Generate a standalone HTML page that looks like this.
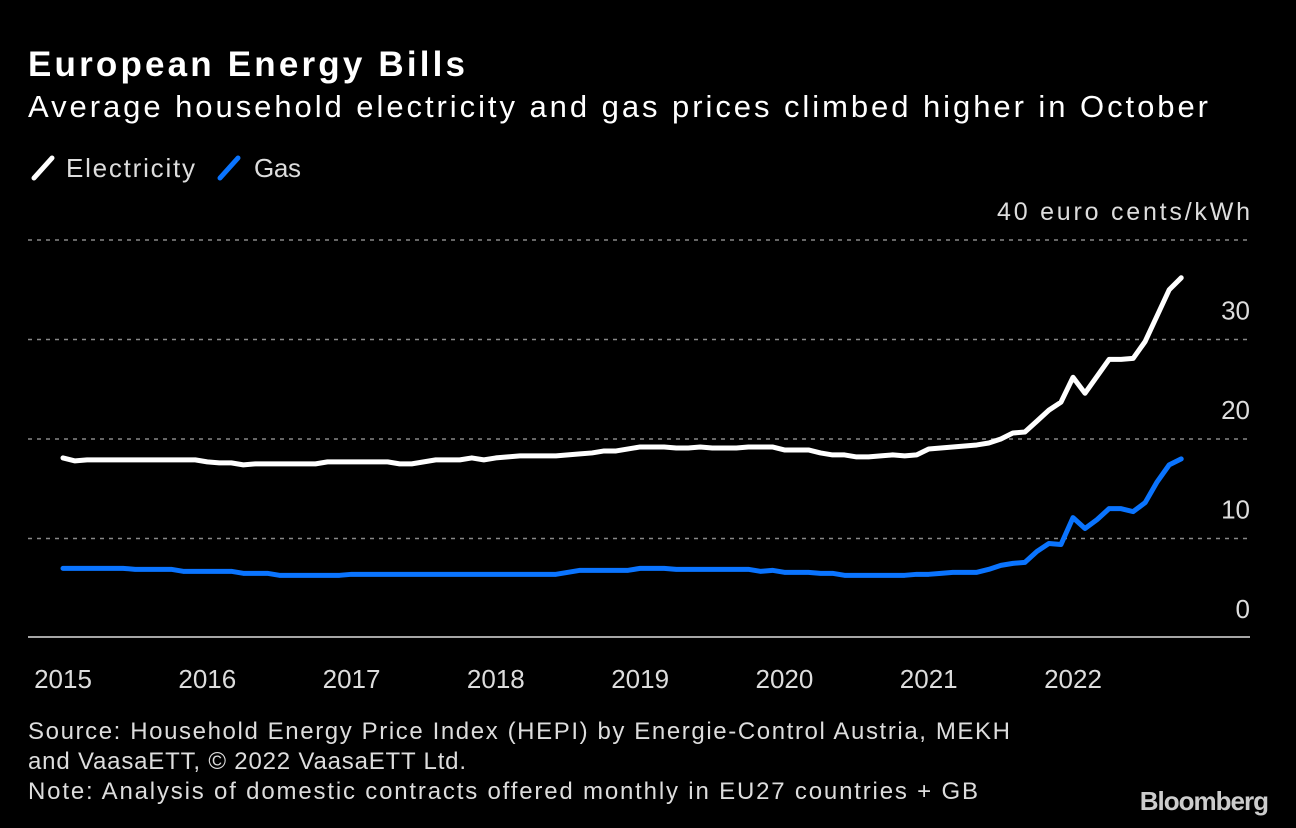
<!DOCTYPE html>
<html><head><meta charset="utf-8"><style>
body{margin:0;background:#000;width:1296px;height:828px;overflow:hidden;font-family:"Liberation Sans","DejaVu Sans",sans-serif;color:#fff}
svg{position:absolute;left:0;top:0}
</style></head><body>
<svg width="1296" height="828">
<text x="28" y="76" font-size="35" font-weight="bold" fill="#fff" textLength="437" lengthAdjust="spacing">European Energy Bills</text>
<text x="28" y="117" font-size="31" fill="#fff" textLength="1180" lengthAdjust="spacing">Average household electricity and gas prices climbed higher in October</text>
<g><line x1="34" y1="178" x2="52" y2="158" stroke="#fff" stroke-width="5" stroke-linecap="round"/><text x="66" y="177" font-size="26" fill="#ddd" textLength="129" lengthAdjust="spacing">Electricity</text></g>
<g><line x1="220" y1="178" x2="238" y2="158" stroke="#0a74ff" stroke-width="5" stroke-linecap="round"/><text x="254" y="177" font-size="26" fill="#ddd" textLength="47" lengthAdjust="spacing">Gas</text></g>
<text x="997" y="220" font-size="25" fill="#ddd" textLength="253" lengthAdjust="spacing">40 euro cents/kWh</text>
<g id="grid"></g><g id="ylabels"></g><g id="xlabels"></g><g id="lines"></g>
<line x1="28" y1="637" x2="1250" y2="637" stroke="#ddd" stroke-width="1.5"/>
<g font-size="24" fill="#ddd">
<text x="28" y="739" textLength="982" lengthAdjust="spacing">Source: Household Energy Price Index (HEPI) by Energie-Control Austria, MEKH</text>
<text x="28" y="769" textLength="438" lengthAdjust="spacing">and VaasaETT, © 2022 VaasaETT Ltd.</text>
<text x="28" y="799" textLength="950" lengthAdjust="spacing">Note: Analysis of domestic contracts offered monthly in EU27 countries + GB</text>
</g>
<text x="1268" y="810" font-size="26" font-weight="bold" fill="#ccc" text-anchor="end" letter-spacing="-1">Bloomberg</text>
</svg>
<script>
const years=[2015,2016,2017,2018,2019,2020,2021,2022];
const yTicks=[0,10,20,30];
const electricity=[
18.1,17.8,17.9,17.9,17.9,17.9,17.9,17.9,17.9,17.9,17.9,17.9,
17.7,17.6,17.6,17.4,17.5,17.5,17.5,17.5,17.5,17.5,17.7,17.7,
17.7,17.7,17.7,17.7,17.5,17.5,17.7,17.9,17.9,17.9,18.1,17.9,
18.1,18.2,18.3,18.3,18.3,18.3,18.4,18.5,18.6,18.8,18.8,19.0,
19.2,19.2,19.2,19.1,19.1,19.2,19.1,19.1,19.1,19.2,19.2,19.2,
18.9,18.9,18.9,18.6,18.4,18.4,18.2,18.2,18.3,18.4,18.3,18.4,
19.0,19.1,19.2,19.3,19.4,19.6,20.0,20.6,20.7,21.8,22.9,23.7,
26.2,24.6,26.3,28.0,28.0,28.1,29.8,32.4,35.0,36.2];
const gas=[
7.0,7.0,7.0,7.0,7.0,7.0,6.9,6.9,6.9,6.9,6.7,6.7,
6.7,6.7,6.7,6.5,6.5,6.5,6.3,6.3,6.3,6.3,6.3,6.3,
6.4,6.4,6.4,6.4,6.4,6.4,6.4,6.4,6.4,6.4,6.4,6.4,
6.4,6.4,6.4,6.4,6.4,6.4,6.6,6.8,6.8,6.8,6.8,6.8,
7.0,7.0,7.0,6.9,6.9,6.9,6.9,6.9,6.9,6.9,6.7,6.8,
6.6,6.6,6.6,6.5,6.5,6.3,6.3,6.3,6.3,6.3,6.3,6.4,
6.4,6.5,6.6,6.6,6.6,6.9,7.3,7.5,7.6,8.7,9.5,9.4,
12.1,11.0,11.9,13.0,13.0,12.7,13.6,15.7,17.4,18.0];
const NS='http://www.w3.org/2000/svg';
const x=m=>63+m*(1073-63)/84;
const y=v=>638-v*9.95;
function mk(t,a,p){const e=document.createElementNS(NS,t);for(const k in a)e.setAttribute(k,a[k]);document.getElementById(p).appendChild(e);return e;}
[10,20,30,40].forEach(v=>{
 const g=mk('line',{x1:28,x2:1250,y1:y(v),y2:y(v),stroke:'#888','stroke-width':1.5,'stroke-dasharray':'4 5'},'grid');
 
 
});
yTicks.forEach(v=>{
 const t=mk('text',{x:1250,y:y(v)-20,'font-size':26,fill:'#ddd','text-anchor':'end'},'ylabels');t.textContent=v;
 
 
});
years.forEach((yr,i)=>{
 const t=mk('text',{x:x(i*12),y:688,'font-size':26,fill:'#ddd','text-anchor':'middle'},'xlabels');t.textContent=yr;
 
 
});
function line(d,c,n){
 const p=mk('polyline',{points:d.map((v,i)=>x(i)+','+y(v)).join(' '),fill:'none',stroke:c,'stroke-width':5,'stroke-linejoin':'round','stroke-linecap':'round'},'lines');
 
 
}
line(gas,'#0a74ff','gas-line');
line(electricity,'#fff','electricity-line');
</script>
</body></html>
